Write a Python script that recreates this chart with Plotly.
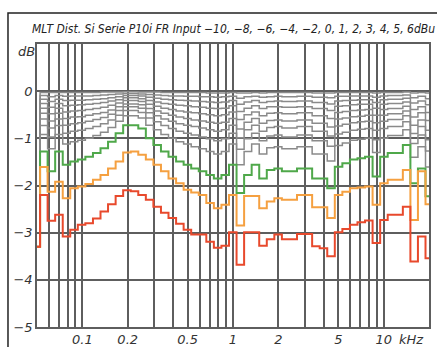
import plotly.graph_objects as go

# 1/6-octave band edges in kHz (each value below applies from one edge to the next)
band_edges_khz = [0.045, 0.0524, 0.0588, 0.066, 0.0741, 0.0831, 0.0933, 0.1047, 0.1176,
                  0.132, 0.1481, 0.1663, 0.1866, 0.2095, 0.2351, 0.2639, 0.2962, 0.3325,
                  0.3732, 0.419, 0.4703, 0.5278, 0.5925, 0.665, 0.7465, 0.8379, 0.9405,
                  1.056, 1.185, 1.33, 1.493, 1.676, 1.881, 2.111, 2.37, 2.66, 2.986,
                  3.352, 3.762, 4.223, 4.74, 5.32, 5.972, 6.703, 7.524, 8.445, 9.48,
                  10.64, 11.94, 13.41, 15.05, 16.89, 18.96, 21.0]

# Level deviation in dB per band, one list per input level
in_m10 = [-3.3, -0.03, -0.03, -0.03, -0.03, -0.03, -0.03, -0.03, -0.03, -0.02, -0.02, -0.02, -0.01, -0.01,
          -0.02, -0.02, -0.02, -0.03, -0.03, -0.03, -0.03, -0.03, -0.03, -0.04, -0.04, -0.04, -0.03,
          -0.04, -0.04, -0.03, -0.04, -0.03, -0.03, -0.03, -0.03, -0.03, -0.03, -0.04, -0.04, -0.04,
          -0.03, -0.03, -0.03, -0.03, -0.03, -0.04, -0.03, -0.03, -0.03, -0.02, -0.04, -0.03, -0.04]
in_m8 = [-3.3, -0.09, -0.12, -0.09, -0.11, -0.10, -0.10, -0.10, -0.09, -0.08, -0.07, -0.06, -0.05, -0.05,
         -0.06, -0.07, -0.08, -0.09, -0.10, -0.10, -0.11, -0.11, -0.12, -0.12, -0.13, -0.12, -0.11,
         -0.15, -0.12, -0.11, -0.13, -0.12, -0.11, -0.12, -0.12, -0.11, -0.11, -0.13, -0.13, -0.14,
         -0.11, -0.11, -0.10, -0.10, -0.10, -0.13, -0.10, -0.09, -0.09, -0.08, -0.14, -0.11, -0.16]
in_m6 = [-3.3, -0.17, -0.22, -0.17, -0.20, -0.19, -0.19, -0.18, -0.17, -0.16, -0.14, -0.12, -0.09, -0.09,
         -0.10, -0.13, -0.15, -0.17, -0.18, -0.19, -0.20, -0.21, -0.22, -0.23, -0.24, -0.23, -0.20,
         -0.28, -0.23, -0.20, -0.24, -0.22, -0.21, -0.22, -0.22, -0.21, -0.21, -0.24, -0.24, -0.27,
         -0.21, -0.20, -0.19, -0.18, -0.18, -0.24, -0.18, -0.17, -0.17, -0.15, -0.25, -0.21, -0.29]
in_m4 = [-3.3, -0.26, -0.34, -0.26, -0.31, -0.30, -0.29, -0.28, -0.26, -0.24, -0.21, -0.18, -0.14, -0.14,
         -0.16, -0.20, -0.23, -0.26, -0.28, -0.30, -0.31, -0.33, -0.34, -0.36, -0.37, -0.36, -0.31,
         -0.43, -0.36, -0.31, -0.37, -0.33, -0.33, -0.34, -0.34, -0.33, -0.33, -0.37, -0.37, -0.41,
         -0.32, -0.31, -0.29, -0.28, -0.28, -0.36, -0.28, -0.26, -0.26, -0.23, -0.39, -0.33, -0.45]
in_m2 = [-3.3, -0.36, -0.48, -0.36, -0.44, -0.42, -0.41, -0.39, -0.37, -0.34, -0.30, -0.25, -0.20, -0.20,
         -0.22, -0.28, -0.32, -0.36, -0.39, -0.42, -0.44, -0.46, -0.48, -0.50, -0.52, -0.50, -0.44,
         -0.60, -0.50, -0.44, -0.52, -0.47, -0.46, -0.48, -0.48, -0.46, -0.46, -0.52, -0.52, -0.58,
         -0.45, -0.43, -0.41, -0.40, -0.39, -0.51, -0.39, -0.37, -0.37, -0.32, -0.55, -0.46, -0.62]
in_0 = [-3.3, -0.47, -0.63, -0.47, -0.58, -0.55, -0.54, -0.51, -0.48, -0.45, -0.40, -0.33, -0.27, -0.27,
        -0.29, -0.37, -0.42, -0.47, -0.51, -0.55, -0.58, -0.61, -0.63, -0.66, -0.68, -0.66, -0.58,
        -0.80, -0.66, -0.58, -0.68, -0.62, -0.61, -0.63, -0.63, -0.61, -0.61, -0.68, -0.68, -0.76,
        -0.59, -0.57, -0.54, -0.53, -0.51, -0.67, -0.51, -0.48, -0.48, -0.42, -0.72, -0.61, -0.83]
in_1 = [-3.3, -0.59, -0.78, -0.59, -0.72, -0.69, -0.67, -0.64, -0.60, -0.56, -0.49, -0.41, -0.33, -0.33,
        -0.36, -0.46, -0.52, -0.59, -0.64, -0.69, -0.72, -0.75, -0.78, -0.82, -0.85, -0.82, -0.72,
        -0.99, -0.82, -0.72, -0.85, -0.77, -0.75, -0.78, -0.78, -0.75, -0.75, -0.85, -0.85, -0.95,
        -0.74, -0.70, -0.67, -0.65, -0.64, -0.83, -0.64, -0.60, -0.60, -0.52, -0.90, -0.75, -1.03]
in_2 = [-3.3, -0.73, -0.97, -0.73, -0.89, -0.85, -0.83, -0.79, -0.75, -0.69, -0.61, -0.51, -0.41, -0.41,
        -0.45, -0.57, -0.65, -0.73, -0.79, -0.85, -0.89, -0.93, -0.97, -1.01, -1.05, -1.01, -0.89,
        -1.23, -1.01, -0.89, -1.05, -0.95, -0.93, -0.97, -0.97, -0.93, -0.93, -1.05, -1.05, -1.17,
        -0.91, -0.87, -0.83, -0.81, -0.79, -1.03, -0.79, -0.75, -0.75, -0.65, -1.11, -0.93, -1.27]
in_3 = [-3.3, -0.92, -1.22, -0.92, -1.12, -1.07, -1.04, -1.00, -0.94, -0.87, -0.77, -0.64, -0.52, -0.52,
        -0.57, -0.72, -0.82, -0.92, -1.00, -1.07, -1.12, -1.18, -1.22, -1.28, -1.33, -1.28, -1.12,
        -1.56, -1.28, -1.12, -1.33, -1.20, -1.18, -1.22, -1.22, -1.18, -1.18, -1.33, -1.33, -1.48,
        -1.15, -1.10, -1.04, -1.02, -1.00, -1.30, -1.00, -0.94, -0.94, -0.82, -1.40, -1.18, -1.61]
in_4 = [-3.3, -1.28, -1.70, -1.28, -1.56, -1.49, -1.45, -1.39, -1.31, -1.21, -1.07, -0.89, -0.72, -0.72,
        -0.79, -1.00, -1.14, -1.28, -1.39, -1.49, -1.56, -1.64, -1.70, -1.78, -1.85, -1.78, -1.56,
        -2.16, -1.78, -1.56, -1.85, -1.67, -1.64, -1.70, -1.70, -1.64, -1.64, -1.85, -1.85, -2.06,
        -1.60, -1.53, -1.45, -1.42, -1.39, -1.81, -1.39, -1.31, -1.31, -1.14, -1.95, -1.64, -2.23]
in_5 = [-3.3, -1.61, -2.13, -1.92, -2.27, -2.06, -2.02, -1.97, -1.88, -1.78, -1.64, -1.49, -1.30, -1.28,
        -1.35, -1.45, -1.56, -1.70, -1.85, -1.95, -2.09, -2.15, -2.20, -2.37, -2.48, -2.41, -2.20,
        -2.85, -2.22, -2.22, -2.48, -2.34, -2.27, -2.30, -2.30, -2.20, -2.20, -2.46, -2.46, -2.69,
        -2.20, -2.13, -2.06, -2.04, -2.02, -2.41, -1.95, -1.88, -1.88, -1.67, -2.73, -1.70, -2.40]
in_6 = [-3.3, -2.20, -2.75, -2.62, -3.08, -2.94, -2.83, -2.80, -2.70, -2.55, -2.40, -2.22, -2.10, -2.12,
        -2.20, -2.30, -2.45, -2.58, -2.69, -2.81, -2.94, -3.04, -3.04, -3.19, -3.32, -3.28, -2.99,
        -3.68, -2.99, -2.99, -3.28, -3.14, -3.04, -3.14, -3.14, -3.03, -3.03, -3.29, -3.33, -3.50,
        -2.99, -2.92, -2.83, -2.78, -2.74, -3.22, -2.73, -2.62, -2.62, -2.45, -3.61, -3.08, -3.54]

gray_series = [in_m10, in_m8, in_m6, in_m4, in_m2, in_0, in_1, in_2, in_3]
color_series = [(in_4, "#4fa84a"), (in_5, "#f5a040"), (in_6, "#e8492c")]

x_gridvals = [0.06, 0.07, 0.08, 0.09, 0.1, 0.2, 0.3, 0.4, 0.5, 0.6, 0.7, 0.8, 0.9,
              1, 2, 3, 4, 5, 6, 7, 8, 9, 10]
x_labels = {0.1: "0.1", 0.2: "0.2", 0.5: "0.5", 1: "1", 2: "2", 5: "5", 10: "10"}
y_ticks = [0, -1, -2, -3, -4, -5]
y_labels = ["0", "\u22121", "\u22122", "\u22123", "\u22124", "\u22125"]

title_text = ("MLT Dist. Si Serie P10i FR Input \u221210, \u22128, \u22126, \u22124, "
              "\u22122, 0, 1, 2, 3, 4, 5, 6dBu")

fig = go.Figure()


def step_trace(values, color, width):
    xs = list(band_edges_khz)
    ys = list(values) + [values[-1]]
    return go.Scatter(x=xs, y=ys, mode="lines", line=dict(shape="hv", color=color, width=width),
                      hoverinfo="skip", showlegend=False)


for vals in gray_series:
    fig.add_trace(step_trace(vals, "#8a8a8a", 1.5))
for vals, col in color_series:
    fig.add_trace(step_trace(vals, col, 2.0))

grid_col = "#5e5e5e"
label_font = dict(family="DejaVu Sans", size=13, color="#333333", style="italic")

fig.update_xaxes(type="log", range=[-1.30103, 1.30103],
                 tickvals=x_gridvals, ticktext=[x_labels.get(v, "") for v in x_gridvals],
                 showgrid=True, gridcolor=grid_col, gridwidth=1.5,
                 showline=True, linecolor=grid_col, linewidth=1.5, mirror=True,
                 ticks="", tickfont=label_font, zeroline=False, automargin=False)
fig.update_yaxes(range=[-5, 1], tickvals=y_ticks, ticktext=y_labels,
                 showgrid=True, gridcolor=grid_col, gridwidth=1.5,
                 showline=True, linecolor=grid_col, linewidth=1.5, mirror=True,
                 ticks="", tickfont=label_font, zeroline=False, automargin=False)

fig.add_annotation(text="kHz", xref="paper", yref="paper", x=0.955, y=-0.012,
                   xanchor="center", yanchor="top", showarrow=False, font=label_font)
fig.add_annotation(text="dB", xref="paper", yref="paper", x=0.0, y=0.975,
                   xanchor="right", yanchor="middle", showarrow=False, font=label_font)
fig.add_annotation(text=title_text, xref="paper", yref="paper", x=0.5, y=1.02,
                   xanchor="center", yanchor="bottom", showarrow=False,
                   font=dict(family="DejaVu Sans Condensed, Liberation Sans Narrow, sans-serif",
                             size=12, color="#222222", style="italic"))

# outer frame around the whole figure
fig.add_shape(type="rect", xref="paper", yref="paper", x0=-0.074, x1=1.3, y0=-0.3, y1=1.1095,
              line=dict(color="#222222", width=1.5), layer="below")

fig.update_layout(width=437, height=347, margin=dict(l=37, r=8, t=44, b=20),
                  paper_bgcolor="white", plot_bgcolor="white")

fig.write_html("out.html")
